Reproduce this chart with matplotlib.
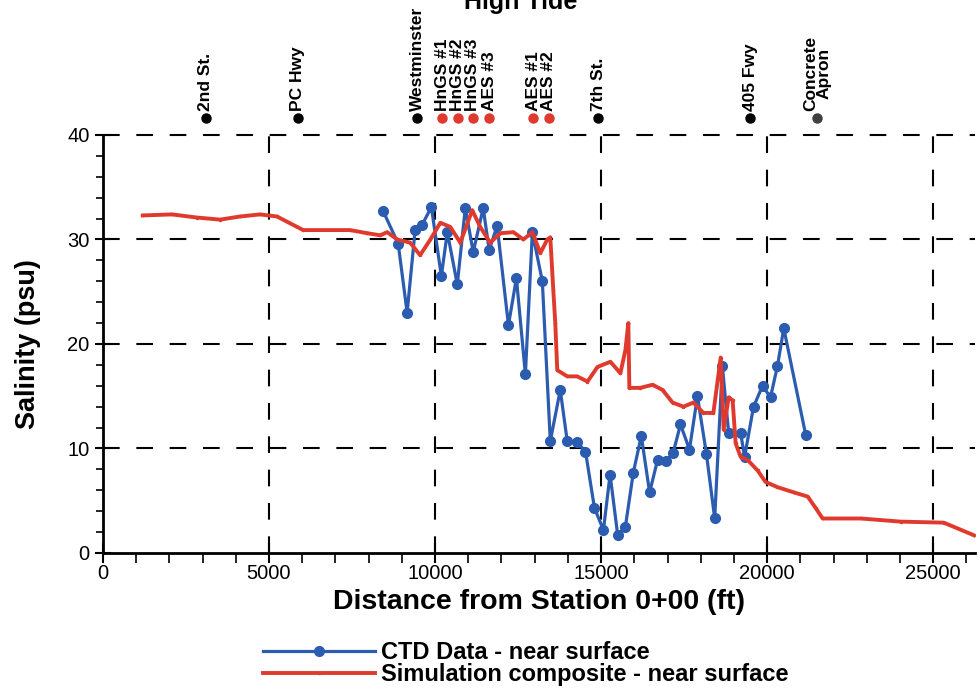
import matplotlib
matplotlib.use("Agg")
import matplotlib.pyplot as plt
import numpy as np

plt.rcParams['font.family'] = ['Liberation Sans', 'DejaVu Sans']

# CTD data - near surface
ctd_x = [8440, 8890, 9160, 9400, 9610, 9890, 10190, 10370, 10670, 10910,
         11150, 11450, 11630, 11870, 12210, 12450, 12720, 12930, 13230, 13470,
         13770, 13980, 14280, 14530, 14800, 15070, 15270, 15500, 15730, 15970,
         16210, 16460, 16700, 16960, 17170, 17390, 17660, 17900, 18170, 18420,
         18650, 18840, 19200, 19320, 19590, 19860, 20100, 20310, 20500, 21160]
ctd_y = [32.7, 29.6, 23.0, 30.9, 31.4, 33.1, 26.5, 30.7, 25.7, 33.0,
         28.8, 33.0, 29.0, 31.3, 21.8, 26.3, 17.1, 30.7, 26.0, 10.7,
         15.6, 10.7, 10.6, 9.7, 4.3, 2.2, 7.5, 1.7, 2.5, 7.7,
         11.2, 5.8, 8.9, 8.8, 9.6, 12.3, 9.9, 15.0, 9.5, 3.3,
         17.9, 11.5, 11.5, 9.2, 14.0, 16.0, 14.9, 17.9, 21.5, 11.3]

# Simulation composite - near surface
sim_x = [1200, 2080, 2830, 3530, 4130, 4730, 5240, 6030, 7440, 7960,
         8350, 8560, 8860, 9250, 9550, 9860, 10160, 10460, 10760, 11120,
         11360, 11660, 11970, 12360, 12660, 12930, 13170, 13380, 13470, 13560,
         13620, 13680, 13980, 14280, 14590, 14890, 15280, 15580, 15730, 15820,
         15850, 16180, 16550, 16850, 17150, 17480, 17780, 18080, 18380, 18600,
         18690, 18840, 18960, 19050, 19200, 19410, 19710, 19950, 20310, 20800,
         21220, 21460, 21670, 22820, 24020, 25320, 26220]
sim_y = [32.3, 32.4, 32.1, 31.9, 32.2, 32.4, 32.2, 30.9, 30.9, 30.6,
         30.4, 30.7, 30.0, 29.7, 28.5, 30.0, 31.6, 31.2, 29.7, 32.8,
         31.2, 29.7, 30.6, 30.7, 30.0, 30.7, 28.7, 30.0, 30.2, 25.2,
         22.0, 17.5, 16.9, 16.9, 16.4, 17.8, 18.3, 17.2, 19.4, 22.0,
         15.8, 15.8, 16.1, 15.6, 14.4, 14.0, 14.4, 13.4, 13.4, 18.7,
         11.8, 14.9, 14.6, 10.5, 9.2, 8.9, 7.9, 6.8, 6.3, 5.8,
         5.4, 4.3, 3.3, 3.3, 3.0, 2.9, 1.7]

# stations along the channel
stn_x = [3100, 5870, 9460, 10210, 10690, 11140, 11630, 12950, 13430, 14910, 19490, 21500]
stn_names = ["2nd St.", "PC Hwy", "Westminster", "HnGS #1", "HnGS #2", "HnGS #3",
             "AES #3", "AES #1", "AES #2", "7th St.", "405 Fwy", "Concrete\nApron"]
stn_colors = ["black", "black", "black", "#e03a2e", "#e03a2e", "#e03a2e",
              "#e03a2e", "#e03a2e", "#e03a2e", "black", "black", "#404040"]

blue = "#2b5cb0"
red = "#e03a2e"

fig = plt.figure(figsize=(9.8, 6.94), dpi=100)
ax = fig.add_axes([0.105, 0.2032, 0.89, 0.6023])

ctd_line, = ax.plot(ctd_x, ctd_y, color=blue, lw=2.3, marker='o', ms=7,
                    label="CTD Data - near surface", zorder=3)
sim_line, = ax.plot(sim_x, sim_y, color=red, lw=2.8, marker='o', ms=1.5,
                    label="Simulation composite - near surface", zorder=4)

ax.set_xlim(0, 26260)
ax.set_ylim(0, 40)
ax.set_xticks([0, 5000, 10000, 15000, 20000, 25000])
ax.set_xticks(np.arange(0, 26001, 1000), minor=True)
ax.set_yticks([0, 10, 20, 30, 40])
ax.set_yticks(np.arange(0, 41, 2), minor=True)

for v in [5000, 10000, 15000, 20000, 25000]:
    ax.axvline(v, color='black', lw=1.5, ls=(0, (8, 8)), zorder=1)
for v in [10, 20, 30, 40]:
    ax.axhline(v, color='black', lw=1.5, ls=(0, (8, 8)), zorder=1, clip_on=False)

for s in ['top', 'right']:
    ax.spines[s].set_visible(False)
for s in ['left', 'bottom']:
    ax.spines[s].set_linewidth(2)

ax.tick_params(axis='both', which='major', labelsize=14.5, width=1.5)
ax.tick_params(axis='y', which='major', direction='inout', length=12)
ax.tick_params(axis='y', which='minor', direction='out', length=5, width=1.2)
ax.tick_params(axis='x', which='major', direction='inout', length=14, pad=1)
ax.tick_params(axis='x', which='minor', direction='out', length=7, width=1.2)

ax.set_xlabel("Distance from Station 0+00 (ft)", fontsize=20.5, fontweight='bold', labelpad=4)
ax.set_ylabel("Salinity (psu)", fontsize=19.5, fontweight='bold', labelpad=19)

# station markers above the plot
trans = ax.get_xaxis_transform()
for x, name, c in zip(stn_x, stn_names, stn_colors):
    ax.plot([x], [1.041], 'o', color=c, ms=6.5, transform=trans, clip_on=False)
    ax.annotate(name, xy=(x, 1.041), xycoords=trans, xytext=(0, 5),
                textcoords='offset points', rotation=90, ha='center', va='bottom',
                fontsize=12.5, fontweight='bold', linespacing=0.85)

fig.text(0.531, 0.987, "High Tide", ha='center', va='baseline',
         fontsize=18, fontweight='bold')

fig.legend(handles=[ctd_line, sim_line], loc='center', bbox_to_anchor=(0.536, 0.044),
           frameon=False, handlelength=4.75, numpoints=1, handletextpad=0.25,
           labelspacing=-0.05, borderpad=0.2, prop={'size': 17, 'weight': 'bold'})

fig.savefig("out.png", dpi=100)
